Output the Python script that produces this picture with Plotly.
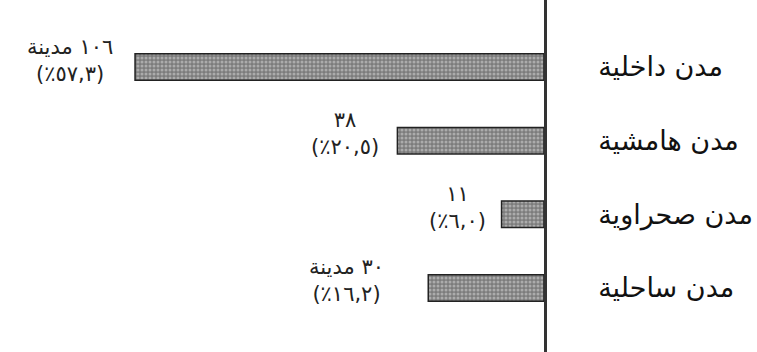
import plotly.graph_objects as go

# city types (top to bottom) and counts
categories = ["مدن داخلية", "مدن هامشية", "مدن صحراوية", "مدن ساحلية"]
counts = [106, 38, 11, 30]
count_labels = ["١٠٦ مدينة", "٣٨", "١١", "٣٠ مدينة"]
pct_labels = ["(٪٥٧,٣)", "(٪٢٠,٥)", "(٪٦,٠)", "(٪١٦,٢)"]

# gap between bar end and its label, in px
label_gaps = [20, 16, 14, 42]

fig = go.Figure(go.Bar(
    x=counts,
    y=categories,
    orientation="h",
    width=0.36,
    marker=dict(
        color="#9a9a9a",
        line=dict(color="#222222", width=1.5),
        pattern=dict(shape=".", fgcolor="#dcdcdc", bgcolor="#7c7c7c", size=4, solidity=0.45),
    ),
    hoverinfo="skip",
))

for cat, n, c, p, gap in zip(categories, counts, count_labels, pct_labels, label_gaps):
    fig.add_annotation(
        x=n, y=cat, xref="x", yref="y",
        text=f"{c}<br>{p}",
        showarrow=False,
        xanchor="right", yanchor="middle",
        xshift=-gap, yshift=7,
        align="center",
        font=dict(family="DejaVu Sans", size=21, color="#222222"),
    )

fig.update_layout(
    width=757, height=352,
    margin=dict(l=0, r=757 - 544, t=0, b=0),
    paper_bgcolor="white", plot_bgcolor="white",
    showlegend=False,
    xaxis=dict(range=[141, 0], showgrid=False, zeroline=False,
               showticklabels=False, showline=False),
    yaxis=dict(range=[3.87, -0.91], side="right", showgrid=False,
               zeroline=False, showline=True, linecolor="#333333", linewidth=2.5,
               ticks="", ticklabelstandoff=46,
               tickfont=dict(family="DejaVu Sans", size=27, color="#111111")),
)

fig.write_html("out.html", config={"displayModeBar": False},
               post_script="document.body.style.margin='0';")
